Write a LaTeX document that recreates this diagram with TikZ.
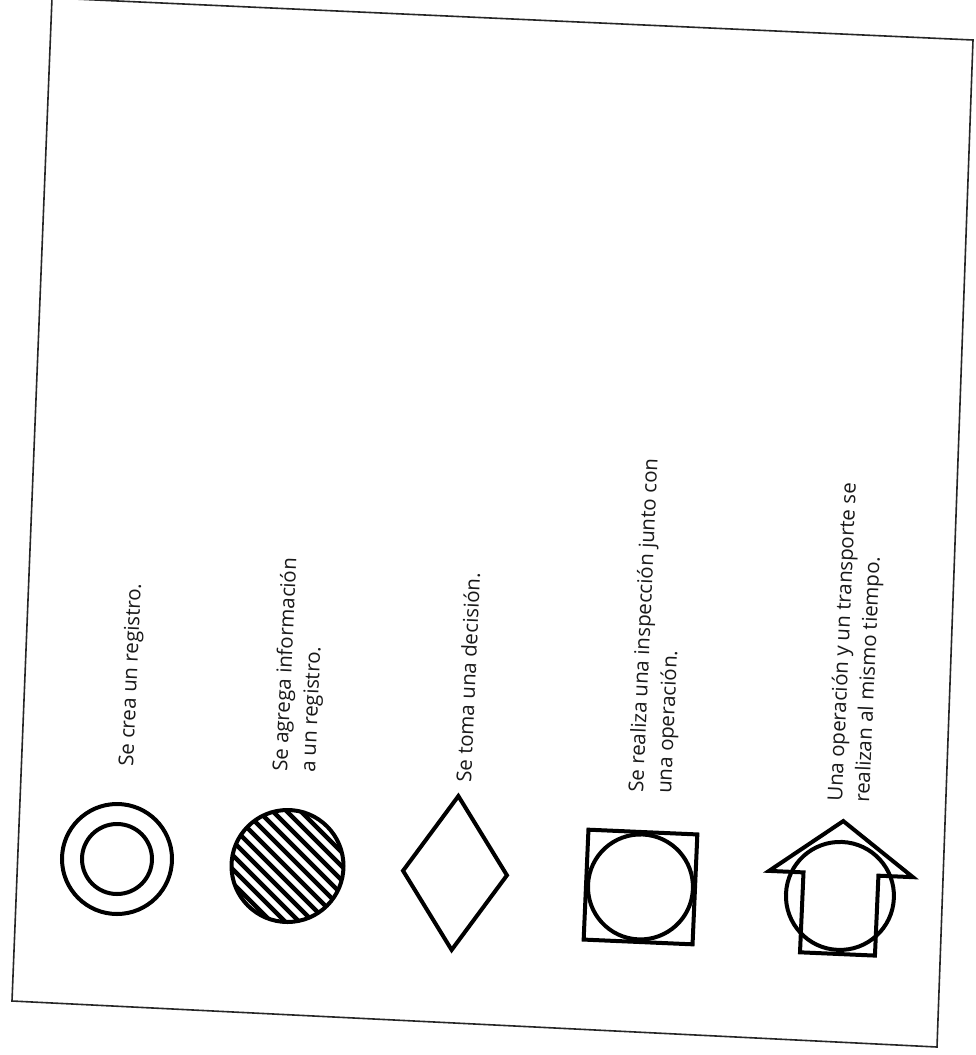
\documentclass[tikz,border=0pt]{standalone}
\usepackage{fontspec}
\setmainfont{Open Sans}
\begin{document}
\begin{tikzpicture}[x=1pt,y=-1pt,
  sym/.style={line width=4pt, black, line join=miter},
  hatch/.style={line width=4.3pt, black},
  frame/.style={line width=1.6pt, black!85},
  lbl/.style={anchor=base west, inner sep=0pt, rotate=87.5, text=black!90, font=\fontsize{20.5}{27.5}\selectfont}]
\useasboundingbox (0,0) rectangle (976,1055);
\fill[white] (0,0) rectangle (976,1055);
% page frame
\begin{scope}
\clip (0,0) rectangle (976,1055);
\draw[frame] (52,-2) coordinate (f1) -- (973,40) coordinate (f2) -- (937,1047) coordinate (f3) -- (12,1001) coordinate (f4) -- cycle;
\end{scope}
% 1: double circle
\coordinate (c1) at (117,859);
\draw[sym] (c1) circle[radius=55pt];
\draw[sym] (c1) circle[radius=35pt];
% 2: hatched circle
\coordinate (c2) at (287.5,866);
\begin{scope}
\clip (c2) circle[radius=56pt];
\foreach \c in {-68,-54,...,80}
  \draw[hatch] (217.5,796+\c) -- (357.5,936+\c);
\end{scope}
\draw[sym] (c2) circle[radius=56pt];
% 3: diamond
\coordinate (c3) at (455,873);
\begin{scope}[rotate around={-2.5:(c3)}]
\draw[sym] (455,796) -- (507,873) -- (455,950) -- (403,873) -- cycle;
\end{scope}
% 4: square with circle
\coordinate (c4) at (640.5,887);
\begin{scope}[rotate around={-2.5:(c4)}]
\draw[sym] (586,832) rectangle (695,942);
\draw[sym] (c4) circle[radius=52.5pt];
\end{scope}
% 5: arrow with circle
\coordinate (c5) at (840,896);
\begin{scope}[rotate around={-2.5:(c5)}]
\draw[sym] (802.5,954) -- (802.5,874) -- (768,874) -- (840,821) -- (912,874) -- (877.5,874) -- (877.5,954) -- cycle;
\draw[sym] (c5) circle[radius=54pt];
\end{scope}
% labels
\node[lbl] (t1) at (133,767) {Se crea un registro.};
\node[lbl] (t2a) at (287,772) {Se agrega información};
\node[lbl] (t2b) at (315,773) {a un registro.};
\node[lbl] (t3) at (471,783) {Se toma una decisión.};
\node[lbl] (t4a) at (643,793) {Se realiza una inspección junto con};
\node[lbl] (t4b) at (671,794) {una operación.};
\node[lbl] (t5a) at (842,802) {Una operación y un transporte se};
\node[lbl] (t5b) at (869,803) {realizan al mismo tiempo.};
\end{tikzpicture}
\end{document}
